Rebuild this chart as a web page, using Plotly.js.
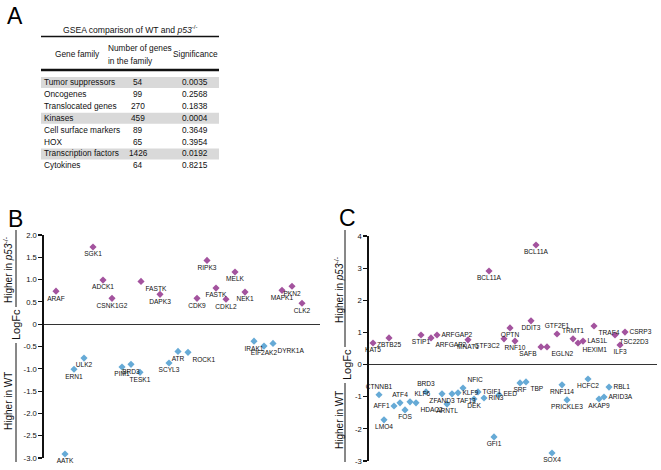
<!DOCTYPE html>
<html><head><meta charset="utf-8">
<script src="https://cdn.plot.ly/plotly-3.0.1.min.js"></script>
<style>html,body{margin:0;padding:0;background:#fff}#chart{width:661px;height:470px}</style>
</head><body><div id="chart"></div>
<script>
// ---------- Panel A: table data ----------
const families = ["Tumor suppressors","Oncogenes","Translocated genes","Kinases","Cell surface markers","HOX","Transcription factors","Cytokines"];
const geneCounts = [54, 99, 270, 459, 89, 65, 1426, 64];
const significance = ["0.0035","0.2568","0.1838","0.0004","0.3649","0.3954","0.0192","0.8215"];
const highlightedRows = [0, 3, 6];

// ---------- Panel B: kinases ----------
const bUpGenes = ["ARAF","SGK1","ADCK1","CSNK1G2","FASTK","DAPK3","CDK9","RIPK3","FASTK","CDKL2","MELK","NEK1","MAPK1","PKN2","CLK2"];
const bUpOrder = [12, 49, 59, 68, 97, 116, 153, 163, 172, 182, 191, 201, 238, 248, 258];
const bUpLogFc = [0.74, 1.73, 0.99, 0.58, 0.96, 0.67, 0.58, 1.43, 0.81, 0.56, 1.17, 0.72, 0.76, 0.85, 0.47];

const bDownGenes = ["AATK","ERN1","ULK2","PIM1","BRD3","TESK1","SCYL3","ATR","ROCK1","IRAK1","EIF2AK2","DYRK1A"];
const bDownOrder = [21, 30, 40, 78, 87, 96, 125, 134, 144, 210, 220, 229];
const bDownLogFc = [-2.91, -1.01, -0.76, -0.96, -0.90, -1.08, -0.87, -0.61, -0.63, -0.38, -0.49, -0.43];

const bTicks = [2, 1.5, 1, 0.5, 0, -0.5, -1, -1.5, -2, -2.5, -3];
const bTickText = ["2.0","1.5","1.0","0.5","0","-0.5","-1.0","-1.5","-2.0","-2.5","-3.0"];

// ---------- Panel C: transcription factors ----------
const cUpGenes = ["KAT5","ZBTB25","STIP1","ARFGAP2","ARFGAP2","MNAT1","BCL11A","GTF3C2","OPTN","RNF10","DDIT3","BCL11A","SAFB","EGLN2","GTF2F1","TRMT1","HEXIM1","LAS1L","TRAF4","TSC22D3","ILF3","CSRP3"];
const cUpOrder = [4, 20, 52, 62, 68, 99, 120, 135, 141, 146, 162, 167, 172, 178, 188, 204, 209, 214, 225, 246, 251, 256];
const cUpLogFc = [0.67, 0.83, 0.92, 0.83, 0.92, 0.77, 2.91, 0.80, 1.14, 0.73, 1.36, 3.72, 0.55, 0.55, 0.95, 0.80, 0.67, 0.73, 1.20, 0.92, 0.61, 1.01];

const cDownGenes = ["CTNNB1","LMO4","AFF1","ATF4","FOS","KLF6","HDAC2","BRD3","ZFAND3","ARNTL","TAF13","KLF9","NFIC","DEK","TGIF1","RIN3","GFI1","EED","SRF","TBP","SOX4","RNF114","PRICKLE3","HCFC2","AKAP9","ARID3A","RBL1"];
const cDownOrder = [10, 15, 25, 31, 36, 41, 47, 57, 73, 78, 83, 89, 94, 105, 109, 115, 125, 130, 151, 157, 183, 193, 198, 219, 230, 235, 240];
const cDownLogFc = [-0.94, -1.72, -1.29, -1.19, -1.41, -1.16, -1.19, -0.85, -0.91, -1.23, -0.91, -0.88, -0.73, -1.07, -0.85, -1.04, -2.25, -0.94, -0.57, -0.54, -2.75, -0.63, -1.10, -0.45, -1.07, -1.01, -0.70];

const cTicks = [4, 3, 2, 1, 0, -1, -2, -3];
const cTickText = ["4","3","2","1","0","-1","-2","-3"];

// ---------- label placement (style) ----------
const bc = "bottom center", br = "bottom right", bl = "bottom left", tc = "top center", tr = "top right", mr = "middle right", ml = "middle left";
const bUpPos = [bc,bc,bc,bc,br,bc,bc,bc,bc,bc,bc,bc,bc,bc,bc];
const bDownPos = [bc,bc,bc,bc,bc,bc,bc,bc,br,bc,bc,br];
const cUpPos = [bc,bc,bc,br,mr,bc,bc,bl,bc,bc,bc,bc,bl,br,tc,tc,br,mr,br,br,bc,mr];
const cDownPos = [tc,bc,ml,tc,bc,tr,br,tc,bc,bc,br,mr,tr,bc,mr,mr,bc,mr,bc,br,bc,bc,bc,bc,bc,mr,mr];

// ---------- styling ----------
const W = 661, H = 470;
const FONT = "Liberation Sans, Arial, Helvetica, sans-serif";
const PURPLE = "#a3539e", BLUE = "#66aad6";
const px = x => x / W, py = y => 1 - y / H;

function pts(xs, ys, names, pos, color, xa, ya) {
  return {
    type: "scatter", mode: "markers+text", x: xs, y: ys, text: names,
    textposition: pos, cliponaxis: false, xaxis: xa, yaxis: ya,
    marker: {symbol: "diamond", size: 5.5, color: color},
    textfont: {family: FONT, size: 6.6, color: "#111"},
    hoverinfo: "skip", showlegend: false
  };
}

const data = [
  pts(bUpOrder, bUpLogFc, bUpGenes, bUpPos, PURPLE, "x", "y"),
  pts(bDownOrder, bDownLogFc, bDownGenes, bDownPos, BLUE, "x", "y"),
  pts(cUpOrder, cUpLogFc, cUpGenes, cUpPos, PURPLE, "x2", "y2"),
  pts(cDownOrder, cDownLogFc, cDownGenes, cDownPos, BLUE, "x2", "y2")
];

const annotations = [];
const shapes = [];
function ann(text, x, y, opts) {
  annotations.push(Object.assign({
    text: text, x: px(x), y: py(y), xref: "paper", yref: "paper",
    showarrow: false, xanchor: "center", yanchor: "middle",
    font: {family: FONT, size: 8.3, color: "#111"}
  }, opts || {}));
}
function hline(x0, x1, y, w) {
  shapes.push({type: "line", xref: "paper", yref: "paper", x0: px(x0), x1: px(x1), y0: py(y), y1: py(y), line: {color: "#111", width: w}});
}
function vline(x, y0, y1, w) {
  shapes.push({type: "line", xref: "paper", yref: "paper", x0: px(x), x1: px(x), y0: py(y0), y1: py(y1), line: {color: "#111", width: w}});
}

// Panel letters
ann("A", 15, 16, {font: {family: FONT, size: 23, color: "#000"}});
ann("B", 15, 219, {font: {family: FONT, size: 23, color: "#000"}});
ann("C", 347, 218, {font: {family: FONT, size: 23, color: "#000"}});

// Table
const tL = 41, tR = 219, rowY0 = 82, rowH = 11.9;
ann("GSEA comparison of WT and <i>p53</i><sup>-/-</sup>", 130, 29, {font: {family: FONT, size: 8.6, color: "#111"}});
hline(tL, tR, 36.5, 1.6);
ann("Gene family", 77, 54);
ann("Number of genes", 106, 48, {xanchor: "left"});
ann("in the family", 106, 61, {xanchor: "left"});
ann("Significance", 195, 54);
hline(tL, tR, 70, 2.6);
highlightedRows.forEach(i => {
  const yc = rowY0 + rowH * i;
  shapes.push({type: "rect", xref: "paper", yref: "paper", layer: "below",
    x0: px(tL), x1: px(tR), y0: py(yc - 5), y1: py(yc + 6),
    fillcolor: "#d9d9d9", line: {width: 0}});
});
families.forEach((f, i) => {
  const yc = rowY0 + rowH * i;
  ann(f, 42, yc, {xanchor: "left"});
  ann(String(geneCounts[i]), 138, yc);
  ann(significance[i], 195, yc);
});

// Side labels panel B
const sideFont = {family: FONT, size: 10, color: "#111"};
ann("Higher in <i>p53</i><sup>-/-</sup>", 8, 270, {textangle: -90, font: sideFont});
ann("LogFc", 16, 325, {textangle: -90, font: {family: FONT, size: 11, color: "#111"}});
ann("Higher in WT", 8, 401, {textangle: -90, font: sideFont});
vline(16, 230, 307, 1);
vline(16, 343, 462, 1);

// Side labels panel C
ann("Higher in <i>p53</i><sup>-/-</sup>", 339, 290, {textangle: -90, font: sideFont});
ann("LogFc", 347, 365, {textangle: -90, font: {family: FONT, size: 11, color: "#111"}});
ann("Higher in WT", 339, 420, {textangle: -90, font: sideFont});
vline(345, 230, 347, 1);
vline(345, 383, 462, 1);

const yBase = {
  showline: true, linecolor: "#111", linewidth: 1.6, ticks: "outside", ticklen: 4,
  tickwidth: 1.2, tickcolor: "#111", showgrid: false, zeroline: true,
  zerolinecolor: "#333", zerolinewidth: 1.4, tickmode: "array",
  tickfont: {family: FONT, size: 7.7, color: "#111"}, fixedrange: true
};
const xBase = {visible: true, showline: false, showticklabels: false, ticks: "", showgrid: false, zeroline: false, fixedrange: true};

const layout = {
  width: W, height: H, margin: {l: 0, r: 0, t: 0, b: 0},
  paper_bgcolor: "#fff", plot_bgcolor: "rgba(0,0,0,0)", showlegend: false,
  font: {family: FONT},
  xaxis: Object.assign({}, xBase, {domain: [px(44), px(320)], range: [0, 276], anchor: "y"}),
  yaxis: Object.assign({}, yBase, {domain: [py(458), py(235)], range: [-3, 2], tickvals: bTicks, ticktext: bTickText, anchor: "x"}),
  xaxis2: Object.assign({}, xBase, {domain: [px(369), px(657)], range: [0, 288], anchor: "y2"}),
  yaxis2: Object.assign({}, yBase, {domain: [py(461), py(236)], range: [-3, 4], tickvals: cTicks, ticktext: cTickText, anchor: "x2"}),
  annotations: annotations, shapes: shapes, hovermode: false
};

Plotly.newPlot("chart", data, layout, {displayModeBar: false, staticPlot: true});
</script></body></html>
